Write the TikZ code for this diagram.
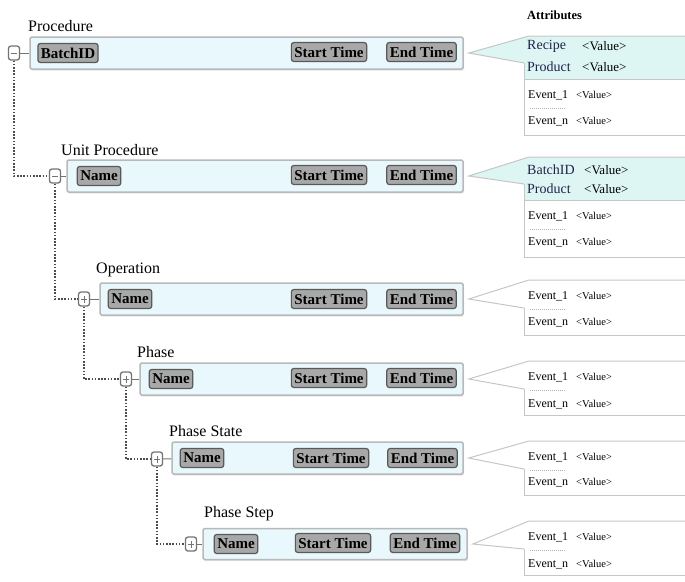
\documentclass[tikz,border=0pt]{standalone}
\usepackage{fontspec}
\setmainfont{Liberation Serif}
\usetikzlibrary{shadows}

\definecolor{barfill}{HTML}{E8F8FC}
\definecolor{attrfill}{HTML}{DDF6F3}
\definecolor{btnfill}{HTML}{A8A8A8}
\definecolor{keytext}{HTML}{22224A}

\newcommand{\fsz}[1]{\fontsize{#1}{#1}\selectfont}

\begin{document}
\begin{tikzpicture}[
x=1pt,y=-1pt,
lbl/.style={anchor=west,inner sep=0pt,font=\fsz{16}},
bar/.style={draw=gray!55,line width=1.5pt,fill=barfill,rounded corners=1.5pt,inner sep=0pt,
  drop shadow={opacity=0.2,shadow xshift=1pt,shadow yshift=-1.5pt}},
btn/.style={draw=black!65,line width=1.2pt,fill=btnfill,rounded corners=2.5pt,
  inner xsep=3pt,inner ysep=0pt,minimum height=19,font=\bfseries\fsz{15}},
tgl/.style={draw=black!55,line width=1.3pt,rounded corners=2.5pt,fill=white,
  minimum width=11,minimum height=14,inner sep=0pt},
tminus/.style={tgl,path picture={
  \draw[black!55,line width=0.8pt] ([xshift=-3pt]path picture bounding box.center)
    -- ([xshift=3pt]path picture bounding box.center);}},
tplus/.style={tgl,path picture={
  \draw[black!55,line width=0.8pt] ([xshift=-3pt]path picture bounding box.center)
    -- ([xshift=3pt]path picture bounding box.center);
  \draw[black!55,line width=0.8pt] ([yshift=-3.5pt]path picture bounding box.center)
    -- ([yshift=3.5pt]path picture bounding box.center);}},
stub/.style={black!55,line width=1pt},
treeline/.style={black!70,line width=1.7pt,dash pattern=on 1.6pt off 1.6pt},
attrline/.style={draw=gray!45,line width=1pt},
evsep/.style={gray!60,line width=0.8pt,dash pattern=on 1pt off 1pt},
key/.style={anchor=west,inner sep=0pt,font=\fsz{14},text=keytext},
kval/.style={anchor=west,inner sep=0pt,font=\fsz{13}},
evt/.style={anchor=west,inner sep=0pt,font=\fsz{12}},
eval/.style={anchor=west,inner sep=0pt,font=\fsz{10.5}}
]
\useasboundingbox (0,0) rectangle (685,581);

% Procedure
\node[lbl]
(l1)
at (28,26)
{Procedure};

\node[bar,minimum width=433,minimum height=32]
(bar1)
at (246.5,53)
{};

\node[tminus]
(t1)
at (14,53)
{};

\node[btn]
(id1)
at (68,53)
{BatchID};

\node[btn]
(s1)
at (329,52)
{Start Time};

\node[btn]
(e1)
at (421.5,52)
{End Time};

% Unit Procedure
\node[lbl]
(l2)
at (61,150)
{Unit Procedure};

\node[bar,minimum width=396,minimum height=32]
(bar2)
at (265,176)
{};

\node[tminus]
(t2)
at (55,176)
{};

\node[btn]
(id2)
at (99,176)
{Name};

\node[btn]
(s2)
at (329,175)
{Start Time};

\node[btn]
(e2)
at (421.5,175)
{End Time};

% Operation
\node[lbl]
(l3)
at (96,270)
{Operation};

\node[bar,minimum width=363,minimum height=32]
(bar3)
at (281.5,299)
{};

\node[tplus]
(t3)
at (84,299)
{};

\node[btn]
(id3)
at (130,299)
{Name};

\node[btn]
(s3)
at (329,299)
{Start Time};

\node[btn]
(e3)
at (421.5,299)
{End Time};

% Phase
\node[lbl]
(l4)
at (137,352)
{Phase};

\node[bar,minimum width=323,minimum height=32]
(bar4)
at (301.5,379)
{};

\node[tplus]
(t4)
at (126,379)
{};

\node[btn]
(id4)
at (171,379)
{Name};

\node[btn]
(s4)
at (329,378)
{Start Time};

\node[btn]
(e4)
at (421.5,378)
{End Time};

% Phase State
\node[lbl]
(l5)
at (169,431)
{Phase State};

\node[bar,minimum width=291,minimum height=32]
(bar5)
at (317.5,458)
{};

\node[tplus]
(t5)
at (157,459)
{};

\node[btn]
(id5)
at (202,458)
{Name};

\node[btn]
(s5)
at (331,458)
{Start Time};

\node[btn]
(e5)
at (422.5,458)
{End Time};

% Phase Step
\node[lbl]
(l6)
at (204,514)
{Phase Step};

\node[bar,minimum width=264,minimum height=31]
(bar6)
at (335,544)
{};

\node[tplus]
(t6)
at (191,544)
{};

\node[btn]
(id6)
at (236,544)
{Name};

\node[btn]
(s6)
at (333,543)
{Start Time};

\node[btn]
(e6)
at (425,543)
{End Time};

% tree
\draw[stub] (t1) -- (bar1);
\draw[stub] (t2) -- (bar2);
\draw[stub] (t3) -- (bar3);
\draw[stub] (t4) -- (bar4);
\draw[stub] (t5) -- (bar5);
\draw[stub] (t6) -- (bar6);

\draw[treeline] (t1) |- (t2);
\draw[treeline] (t2) |- (t3);
\draw[treeline] (t3) |- (t4);
\draw[treeline] (t4) |- (t5);
\draw[treeline] (t5) |- (t6);

% attributes
\node[anchor=west,inner sep=0pt,font=\bfseries\fsz{12.5}]
(att)
at (527,15)
{Attributes};

\fill[attrfill] ([xshift=5pt]bar1.east) -- (529,36) -- (700,36) -- (700,79) -- (524,79) -- (524,63) -- cycle;
\draw[attrline] (524,63) -- ([xshift=5pt]bar1.east) -- (529,36) -- (700,36);
\draw[attrline] (524,63) -- (524,135) -- (700,135);
\draw[attrline] (524,79) -- (700,79);

\fill[attrfill] ([xshift=5pt]bar2.east) -- (529,157) -- (700,157) -- (700,200) -- (524,200) -- (524,184) -- cycle;
\draw[attrline] (524,184) -- ([xshift=5pt]bar2.east) -- (529,157) -- (700,157);
\draw[attrline] (524,184) -- (524,257) -- (700,257);
\draw[attrline] (524,200) -- (700,200);

\draw[attrline] (524,308) -- ([xshift=5pt]bar3.east) -- (529,280) -- (700,280);
\draw[attrline] (524,308) -- (524,335) -- (700,335);

\draw[attrline] (524,389) -- ([xshift=5pt]bar4.east) -- (529,361) -- (700,361);
\draw[attrline] (524,389) -- (524,415) -- (700,415);

\draw[attrline] (524,469) -- ([xshift=5pt]bar5.east) -- (529,441) -- (700,441);
\draw[attrline] (524,469) -- (524,495) -- (700,495);

\draw[attrline] (524,549) -- ([xshift=5pt]bar6.east) -- (529,521) -- (700,521);
\draw[attrline] (524,549) -- (524,575) -- (700,575);

\node[key] (k1a) at (527,46) {Recipe};
\node[kval] (v1a) at (582,46) {<Value>};
\node[key] (k1b) at (527,67) {Product};
\node[kval] (v1b) at (582,67) {<Value>};
\node[evt] (ea1) at (528,95) {Event\_1};
\node[eval] (va1) at (576,95) {<Value>};
\draw[evsep] (530,108) -- (566,108);
\node[evt] (eb1) at (528,121) {Event\_n};
\node[eval] (vb1) at (576,121) {<Value>};

\node[key] (k2a) at (527,170) {BatchID};
\node[kval] (v2a) at (584,170) {<Value>};
\node[key] (k2b) at (527,189) {Product};
\node[kval] (v2b) at (584,189) {<Value>};
\node[evt] (ea2) at (528,216) {Event\_1};
\node[eval] (va2) at (576,216) {<Value>};
\draw[evsep] (530,229) -- (566,229);
\node[evt] (eb2) at (528,242) {Event\_n};
\node[eval] (vb2) at (576,242) {<Value>};

\node[evt] (ea3) at (528,296) {Event\_1};
\node[eval] (va3) at (576,296) {<Value>};
\draw[evsep] (530,309) -- (566,309);
\node[evt] (eb3) at (528,322) {Event\_n};
\node[eval] (vb3) at (576,322) {<Value>};

\node[evt] (ea4) at (528,377) {Event\_1};
\node[eval] (va4) at (576,377) {<Value>};
\draw[evsep] (530,390) -- (566,390);
\node[evt] (eb4) at (528,404) {Event\_n};
\node[eval] (vb4) at (576,404) {<Value>};

\node[evt] (ea5) at (528,457) {Event\_1};
\node[eval] (va5) at (576,457) {<Value>};
\draw[evsep] (530,470) -- (566,470);
\node[evt] (eb5) at (528,482) {Event\_n};
\node[eval] (vb5) at (576,482) {<Value>};

\node[evt] (ea6) at (528,537) {Event\_1};
\node[eval] (va6) at (576,537) {<Value>};
\draw[evsep] (530,550) -- (566,550);
\node[evt] (eb6) at (528,564) {Event\_n};
\node[eval] (vb6) at (576,564) {<Value>};

\end{tikzpicture}
\end{document}
